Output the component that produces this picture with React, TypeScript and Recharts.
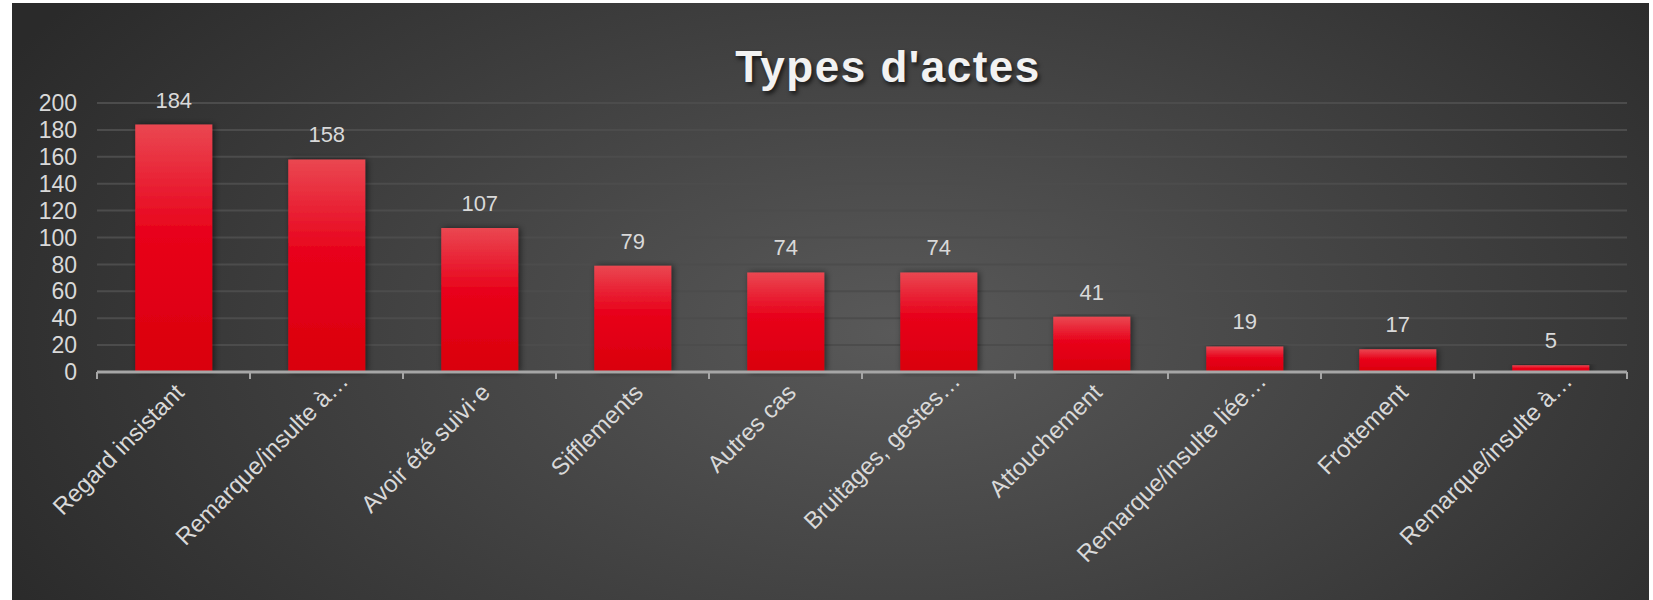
import React from "react";
import {
  BarChart,
  Bar,
  XAxis,
  YAxis,
  CartesianGrid,
  LabelList,
} from "recharts";

const categories = [
  "Regard insistant",
  "Remarque/insulte à…",
  "Avoir été suivi·e",
  "Sifflements",
  "Autres cas",
  "Bruitages, gestes…",
  "Attouchement",
  "Remarque/insulte liée…",
  "Frottement",
  "Remarque/insulte à…",
];
const counts = [184, 158, 107, 79, 74, 74, 41, 19, 17, 5];
const yTicks = [0, 20, 40, 60, 80, 100, 120, 140, 160, 180, 200];

const data = categories.map((name, i) => ({ name, value: counts[i] }));

const labelColor = "#d9d9d9";
const axisColor = "#a6a6a6";

// rotated label + tick marks on the category boundaries (like Excel)
const AngledTick = (props: any) => {
  const { x, y, payload, index, width, visibleTicksCount } = props;
  const half =
    payload && payload.offset ? payload.offset : width / visibleTicksCount / 2;
  const axisY = y - 18;
  const ax = x + 6;
  const ty = y - 2;
  // Excel's cut labels run a bit past the tick
  const cut = String(payload.value).endsWith("…");
  return (
    <g>
      <line x1={x - half} y1={axisY} x2={x - half} y2={axisY + 7} stroke={axisColor} strokeWidth={2} />
      {index === visibleTicksCount - 1 && (
        <line x1={x + half} y1={axisY} x2={x + half} y2={axisY + 7} stroke={axisColor} strokeWidth={2} />
      )}
      <text
        x={ax}
        y={ty}
        transform={`rotate(-45 ${ax} ${ty})`}
        textAnchor="end"
        dx={cut ? 16 : 0}
        dy="0.35em"
        fill={labelColor}
        fontSize={24}
      >
        {payload.value}
      </text>
    </g>
  );
};

export default function App() {
  return (
    <div
      style={{
        position: "absolute",
        left: 12,
        top: 3,
        width: 1637,
        height: 597,
        fontFamily: "'Liberation Sans', Arial, sans-serif",
        background:
          "radial-gradient(ellipse 62% 95% at 54% 55%, #595959 0%, #444 45%, #2a2a2a 100%)",
      }}
    >
      <div
        style={{
          position: "absolute",
          left: 876,
          top: 42,
          transform: "translateX(-50%)",
          fontSize: 44,
          lineHeight: "44px",
          fontWeight: "bold",
          letterSpacing: 1.5,
          color: "#f2f2f2",
          whiteSpace: "nowrap",
          textShadow: "2px 3px 4px rgba(0,0,0,0.65)",
        }}
      >
        Types d'actes
      </div>
      <BarChart
        width={1637}
        height={597}
        data={data}
        barCategoryGap="25%"
        margin={{ top: 100, right: 22, bottom: 0, left: 0 }}
      >
        <defs>
          <linearGradient id="barGrad" x1="0" y1="0" x2="0" y2="1">
            <stop offset="0%" stopColor="#ea4751" />
            <stop offset="45%" stopColor="#e8001a" />
            <stop offset="100%" stopColor="#d9000c" />
          </linearGradient>
          <filter id="barShadow" x="-20%" y="-5%" width="140%" height="110%">
            <feDropShadow dx="2" dy="0" stdDeviation="3" floodColor="#000" floodOpacity="0.55" />
          </filter>
        </defs>
        <CartesianGrid vertical={false} stroke="#4c4c4c" strokeWidth={2} />
        <XAxis
          dataKey="name"
          height={228}
          interval={0}
          axisLine={{ stroke: axisColor, strokeWidth: 3 }}
          tickLine={false}
          tickSize={0}
          tickMargin={18}
          tick={<AngledTick />}
        />
        <YAxis
          domain={[0, 200]}
          ticks={yTicks}
          interval={0}
          width={85}
          axisLine={false}
          tickLine={false}
          tickSize={0}
          tickMargin={20}
          tick={{ fill: labelColor, fontSize: 23 }}
        />
        <Bar
          dataKey="value"
          fill="url(#barGrad)"
          filter="url(#barShadow)"
          isAnimationActive={false}
        >
          <LabelList
            dataKey="value"
            position="top"
            offset={17}
            fill={labelColor}
            fontSize={22}
          />
        </Bar>
      </BarChart>
    </div>
  );
}
